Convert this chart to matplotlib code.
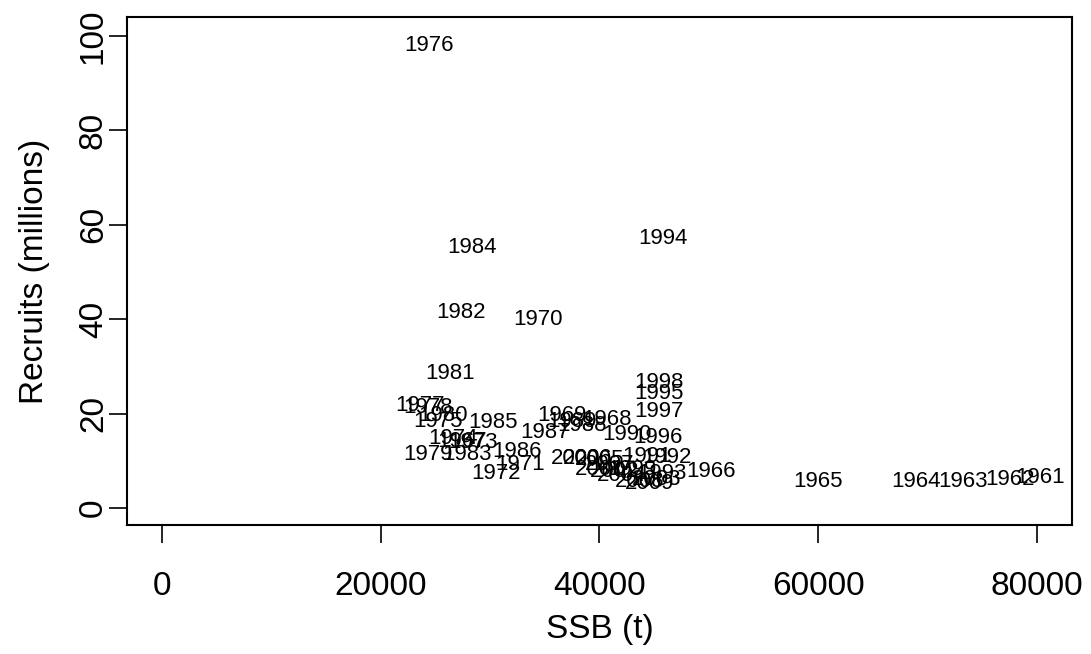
import matplotlib
matplotlib.use("Agg")
import matplotlib.pyplot as plt
from matplotlib.transforms import offset_copy

# stock-recruit data: year, SSB (t), recruits (millions)
years = list(range(1961, 2010))
ssb = [80290, 77550, 73250, 68950, 59990, 50210, 27430, 40700, 36580, 34390,
       32740, 30540, 28440, 26610, 25240, 24420, 23590, 24330, 24330, 25700,
       26340, 27340, 27890, 28350, 30270, 32460, 35030, 38410, 37490, 42520,
       44350, 46180, 45730, 45820, 45450, 45360, 45450, 45450, 42980, 37860,
       40050, 41430, 45270, 42070, 40050, 38960, 40970, 43710, 44630]
recruits = [6.8, 6.4, 5.9, 5.9, 5.9, 8.1, 14.4, 19.1, 19.9, 40.3,
            9.5, 7.6, 14.2, 15.0, 18.6, 98.3, 22.0, 21.6, 11.7, 19.9,
            28.8, 41.7, 11.7, 55.5, 18.4, 12.3, 16.3, 17.8, 18.6, 15.9,
            11.2, 11.0, 7.6, 57.4, 24.6, 15.3, 20.8, 26.9, 8.5, 10.8,
            8.5, 8.1, 6.4, 7.2, 10.6, 10.8, 9.5, 5.9, 5.5]

x_ticks = [0, 20000, 40000, 60000, 80000]
y_ticks = [0, 20, 40, 60, 80, 100]

plt.rcParams['font.family'] = ['Liberation Sans', 'DejaVu Sans']

fig = plt.figure(figsize=(10.91, 6.54), dpi=100)
ax = fig.add_axes([0.1164, 0.1972, 0.8662, 0.7768])

# R centres text a touch lower than matplotlib does
trans = offset_copy(ax.transData, fig=fig, x=0, y=-1.2, units='points')
for yr, x, y in zip(years, ssb, recruits):
    ax.text(x, y, str(yr), ha='center', va='center', fontsize=16,
            color='black', transform=trans)

ax.set_xlim(-3200, 83220)
ax.set_ylim(-3.6, 104.0)
ax.set_xticks(x_ticks)
ax.set_xticklabels([str(v) for v in x_ticks])
ax.set_yticks(y_ticks)
ax.set_yticklabels([str(v) for v in y_ticks], rotation=90, va='center')
ax.tick_params(axis='both', direction='out', length=13, width=1.2, labelsize=24)
ax.tick_params(axis='x', pad=20)
ax.tick_params(axis='y', pad=0)
for s in ax.spines.values():
    s.set_linewidth(1.5)

ax.set_xlabel('SSB (t)', fontsize=24, labelpad=9)
ax.set_ylabel('Recruits (millions)', fontsize=24, labelpad=20)

fig.savefig('out.png', dpi=100)
